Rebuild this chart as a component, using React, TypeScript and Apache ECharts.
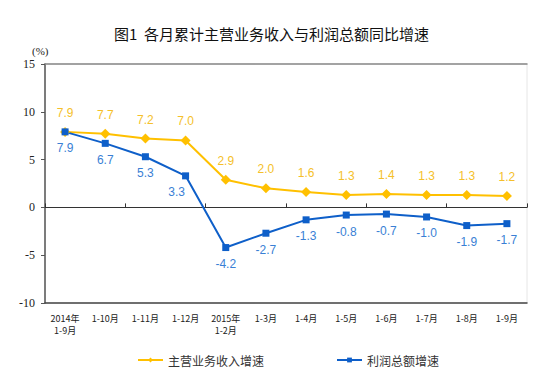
import React, { useEffect, useRef } from "react";
import * as echarts from "echarts";

const categories = [
  "2014年\n1-9月",
  "1-10月",
  "1-11月",
  "1-12月",
  "2015年\n1-2月",
  "1-3月",
  "1-4月",
  "1-5月",
  "1-6月",
  "1-7月",
  "1-8月",
  "1-9月",
];
const revenueGrowth = [7.9, 7.7, 7.2, 7.0, 2.9, 2.0, 1.6, 1.3, 1.4, 1.3, 1.3, 1.2];
const profitGrowth = [7.9, 6.7, 5.3, 3.3, -4.2, -2.7, -1.3, -0.8, -0.7, -1.0, -1.9, -1.7];
const seriesNames = ["主营业务收入增速", "利润总额增速"];
const titleText = "图1  各月累计主营业务收入与利润总额同比增速";
const unitText = "(%)";

const YELLOW = "#FFC000";
const BLUE = "#0E5FC9";
const SERIF = "'Liberation Serif', 'Times New Roman', serif";

export default function App() {
  const ref = useRef<HTMLDivElement>(null);
  useEffect(() => {
    document.body.style.margin = "0";
    const chart = echarts.init(ref.current!, null, { renderer: "svg" });
    const profitData = profitGrowth.map((v, i) =>
      i === 3 ? { value: v, label: { offset: [-9, 0] } } : v
    );
    chart.setOption({
      animation: false,
      backgroundColor: "#ffffff",
      title: {
        text: titleText,
        left: "center",
        top: 21,
        textStyle: {
          fontFamily: "Noto Sans CJK SC",
          fontSize: 15,
          fontWeight: "normal",
          color: "#111",
        },
      },
      graphic: [
        {
          type: "text",
          left: 32,
          top: 45,
          style: {
            text: unitText,
            fontFamily: SERIF,
            fontSize: 11,
            fill: "#222",
          },
        },
      ],
      legend: {
        left: 132,
        top: 349,
        itemWidth: 25,
        itemHeight: 6,
        itemGap: 72,
        textStyle: {
          fontFamily: "Noto Sans CJK SC",
          fontSize: 12,
          color: "#333",
        },
        data: seriesNames,
      },
      grid: {
        left: 45,
        top: 64,
        right: 16,
        bottom: 85,
        show: true,
        borderColor: "#e6e6e6",
        borderWidth: 1,
      },
      xAxis: [
        {
          type: "category",
          data: categories,
          position: "bottom",
          axisLine: { onZero: true, lineStyle: { color: "#333", width: 1 } },
          axisTick: { show: true, inside: true, length: 4, lineStyle: { color: "#333" } },
          axisLabel: { show: false },
        },
        {
          type: "category",
          data: categories,
          position: "bottom",
          axisLine: { onZero: false, lineStyle: { color: "#444", width: 1.5 } },
          axisTick: { show: false },
          axisLabel: {
            interval: 0,
            margin: 9,
            fontFamily: "Noto Sans CJK SC",
            fontSize: 9,
            lineHeight: 12,
            color: "#222",
          },
        },
        {
          type: "category",
          data: categories,
          position: "top",
          axisLine: { lineStyle: { color: "#888", width: 1.5 } },
          axisTick: { show: false },
          axisLabel: { show: false },
        },
      ],
      yAxis: [
        {
          type: "value",
          min: -10,
          max: 15,
          interval: 5,
          axisLine: { show: true, lineStyle: { color: "#555", width: 1.5 } },
          axisTick: { show: true, length: 4, lineStyle: { color: "#555" } },
          splitLine: { show: false },
          axisLabel: {
            margin: 10,
            fontFamily: SERIF,
            fontSize: 12,
            color: "#222",
          },
        },
      ],
      series: [
        {
          name: seriesNames[0],
          type: "line",
          xAxisIndex: 0,
          data: revenueGrowth,
          symbol: "diamond",
          symbolSize: 10,
          itemStyle: { color: YELLOW },
          lineStyle: { color: YELLOW, width: 2 },
          label: {
            show: true,
            position: "top",
            distance: 8,
            formatter: (p: any) => Number(p.value).toFixed(1),
            fontFamily: "Liberation Sans",
            fontSize: 12,
            color: "#F5BF2A",
          },
        },
        {
          name: seriesNames[1],
          type: "line",
          xAxisIndex: 0,
          data: profitData,
          symbol: "rect",
          symbolSize: 7,
          itemStyle: { color: BLUE },
          lineStyle: { color: BLUE, width: 2 },
          label: {
            show: true,
            position: "bottom",
            distance: 7,
            formatter: (p: any) => Number(p.value).toFixed(1),
            fontFamily: "Liberation Sans",
            fontSize: 12,
            color: "#3A7FD5",
          },
        },
      ],
    });
    return () => chart.dispose();
  }, []);
  return <div ref={ref} style={{ width: 543, height: 388 }} />;
}
